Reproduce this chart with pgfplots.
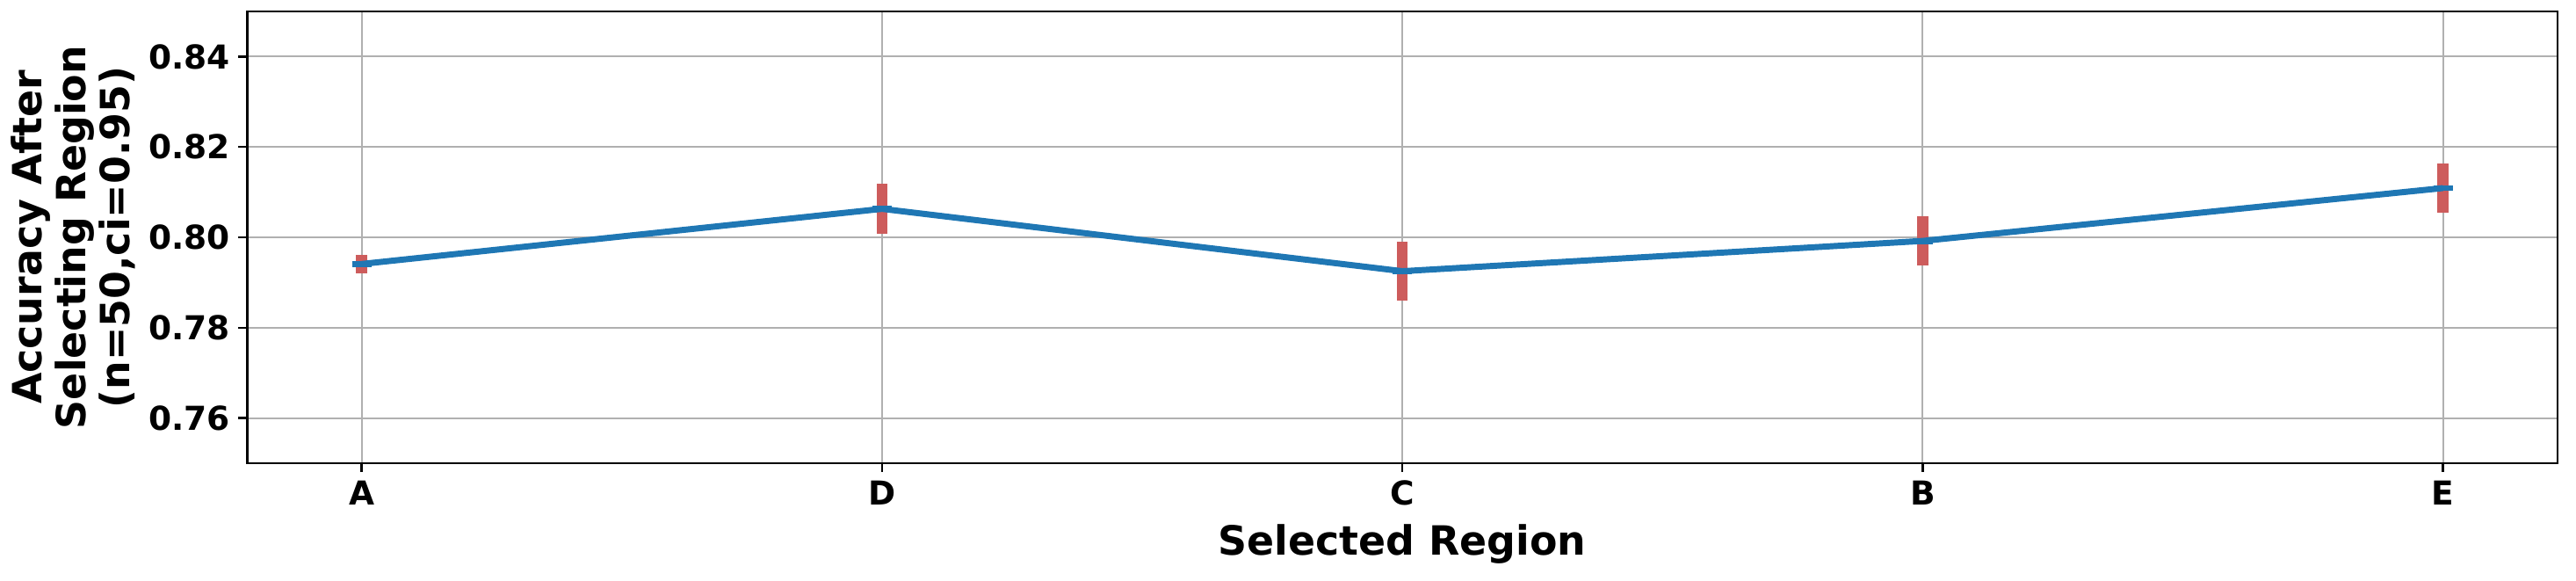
\documentclass[border=0pt]{standalone}
\usepackage{fontspec}
\setmainfont{DejaVu Sans}
\usepackage{pgfplots}
\pgfplotsset{compat=1.18}
\definecolor{lineblue}{HTML}{1F77B4}
\definecolor{barred}{HTML}{CD5C5C}
\definecolor{gridgray}{HTML}{B0B0B0}

\begin{document}
\begin{tikzpicture}
\useasboundingbox (0,0) rectangle (1055.5pt,237.6pt);
\begin{axis}[
    at={(101.3pt,47.9pt)}, anchor=south west,
    scale only axis, width=946.6pt, height=185pt,
    xmin=-0.22, xmax=4.22,
    ymin=0.75, ymax=0.85,
    xtick={0,1,2,3,4},
    xticklabels={A,D,C,B,E},
    ytick={0.76,0.78,0.80,0.82,0.84},
    /pgf/number format/assume math mode=true,
    yticklabel style={/pgf/number format/.cd, fixed, fixed zerofill, precision=2},
    ticklabel style={font=\bfseries\fontsize{13.5}{13.5}\selectfont},
    tick align=outside,
    major tick length=3.6pt,
    tick style={black, line width=0.9pt},
    xtick pos=bottom, ytick pos=left,
    grid=major,
    major grid style={gridgray, line width=0.7pt},
    axis line style={line width=1pt},
    xlabel={Selected Region},
    xlabel style={font=\bfseries\fontsize{16.5}{16.5}\selectfont, inner sep=0pt,
        at={(axis description cs:0.5,-0.135)}, anchor=north},
    ylabel={Accuracy After\\Selecting Region\\(n=50,ci=0.95)},
    ylabel style={font=\bfseries\fontsize{16.5}{18}\selectfont, align=center,
        at={(axis description cs:-0.0753,0.5)}, anchor=center},
]
% confidence intervals
\addplot[draw=none, forget plot,
    error bars/.cd, y dir=both, y explicit, error mark=none,
    error bar style={draw=barred, line width=4.5pt}]
coordinates {
    (0,0.7941) +- (0,0.0021)
    (1,0.8063) +- (0,0.0055)
    (2,0.7925) +- (0,0.0066)
    (3,0.7992) +- (0,0.0054)
    (4,0.8109) +- (0,0.0054)
};
% mean accuracy
\addplot[lineblue, line width=2.5pt, mark=-, mark size=4pt,
    mark options={line width=2.5pt}]
coordinates {
    (0,0.7941)
    (1,0.8063)
    (2,0.7925)
    (3,0.7992)
    (4,0.8109)
};
\end{axis}
\end{tikzpicture}
\end{document}
